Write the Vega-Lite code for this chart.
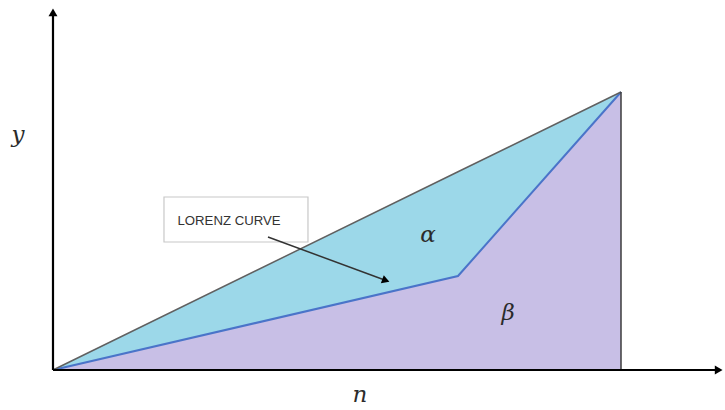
{
  "$schema": "https://vega.github.io/schema/vega-lite/v6.json",
  "width": 725,
  "height": 410,
  "autosize": {"type": "fit", "contains": "padding"},
  "padding": 0,
  "background": "white",
  "config": {"view": {"stroke": null}},
  "datasets": {
    "curve": [
      {"x": 0, "diag": 0, "lorenz": 0, "base": 0},
      {"x": 7.13, "diag": 7.13, "lorenz": 3.38, "base": 0},
      {"x": 10, "diag": 10, "lorenz": 10, "base": 0}
    ],
    "axes": [
      {"x": 0, "y": 0, "x2": 11.66, "y2": 0},
      {"x": 0, "y": 0, "x2": 0, "y2": 12.8}
    ],
    "edge": [{"x": 10, "y": 0, "x2": 10, "y2": 10}],
    "heads": [
      {"x": 11.72, "y": 0, "shape": "triangle-right"},
      {"x": 0, "y": 12.86, "shape": "triangle-up"}
    ],
    "box": [{"x": 1.954, "x2": 4.489, "y": 6.223, "y2": 4.604}],
    "boxlabel": [{"x": 3.099, "y": 5.216, "label": "LORENZ CURVE"}],
    "pointer": [{"x": 3.785, "y": 4.784, "x2": 5.85, "y2": 3.23}],
    "pointerhead": [{"x": 5.86, "y": 3.22}],
    "symbols": [
      {"x": 6.602, "y": 4.856, "label": "α"},
      {"x": 8.011, "y": 2.05, "label": "β"},
      {"x": -0.616, "y": 8.453, "label": "y"},
      {"x": 5.405, "y": -0.899, "label": "n"}
    ]
  },
  "encoding": {
    "x": {"type": "quantitative", "scale": {"domain": [-0.933, 11.831], "nice": false, "zero": false}, "axis": null},
    "y": {"type": "quantitative", "scale": {"domain": [-1.439, 13.309], "nice": false, "zero": false}, "axis": null}
  },
  "layer": [
    {
      "data": {"name": "curve"},
      "mark": {"type": "area", "color": "#c8bfe6", "opacity": 1},
      "encoding": {"x": {"field": "x"}, "y": {"field": "lorenz"}, "y2": {"field": "base"}}
    },
    {
      "data": {"name": "curve"},
      "mark": {"type": "area", "color": "#9cd8e9", "opacity": 1},
      "encoding": {"x": {"field": "x"}, "y": {"field": "diag"}, "y2": {"field": "lorenz"}}
    },
    {
      "data": {"name": "curve"},
      "mark": {"type": "line", "color": "#4a74c9", "strokeWidth": 2},
      "encoding": {"x": {"field": "x"}, "y": {"field": "lorenz"}}
    },
    {
      "data": {"name": "curve"},
      "mark": {"type": "line", "color": "#606060", "strokeWidth": 1.5},
      "encoding": {"x": {"field": "x"}, "y": {"field": "diag"}}
    },
    {
      "data": {"name": "edge"},
      "mark": {"type": "rule", "color": "#3c3c3c", "strokeWidth": 1.5},
      "encoding": {"x": {"field": "x"}, "y": {"field": "y"}, "x2": {"field": "x2"}, "y2": {"field": "y2"}}
    },
    {
      "data": {"name": "axes"},
      "mark": {"type": "rule", "color": "#000000", "strokeWidth": 2.2},
      "encoding": {"x": {"field": "x"}, "y": {"field": "y"}, "x2": {"field": "x2"}, "y2": {"field": "y2"}}
    },
    {
      "data": {"name": "heads"},
      "mark": {"type": "point", "filled": true, "color": "#000000", "size": 80, "opacity": 1},
      "encoding": {"x": {"field": "x"}, "y": {"field": "y"}, "shape": {"field": "shape", "type": "nominal", "scale": null}}
    },
    {
      "data": {"name": "box"},
      "mark": {"type": "rect", "fill": "#ffffff", "stroke": "#c8c8c8", "strokeWidth": 1.2},
      "encoding": {"x": {"field": "x"}, "x2": {"field": "x2"}, "y": {"field": "y"}, "y2": {"field": "y2"}}
    },
    {
      "data": {"name": "boxlabel"},
      "mark": {"type": "text", "font": "Liberation Sans", "fontSize": 13.2, "color": "#333333", "align": "center", "baseline": "alphabetic"},
      "encoding": {"x": {"field": "x"}, "y": {"field": "y"}, "text": {"field": "label"}}
    },
    {
      "data": {"name": "pointer"},
      "mark": {"type": "rule", "color": "#333333", "strokeWidth": 1.5},
      "encoding": {"x": {"field": "x"}, "y": {"field": "y"}, "x2": {"field": "x2"}, "y2": {"field": "y2"}}
    },
    {
      "data": {"name": "pointerhead"},
      "mark": {"type": "point", "shape": "triangle-right", "filled": true, "color": "#000000", "size": 75, "angle": 20, "opacity": 1},
      "encoding": {"x": {"field": "x"}, "y": {"field": "y"}}
    },
    {
      "data": {"name": "symbols"},
      "mark": {"type": "text", "font": "DejaVu Serif", "fontStyle": "italic", "fontSize": 23, "color": "#2b2b2b", "align": "center", "baseline": "middle"},
      "encoding": {"x": {"field": "x"}, "y": {"field": "y"}, "text": {"field": "label"}}
    }
  ]
}
